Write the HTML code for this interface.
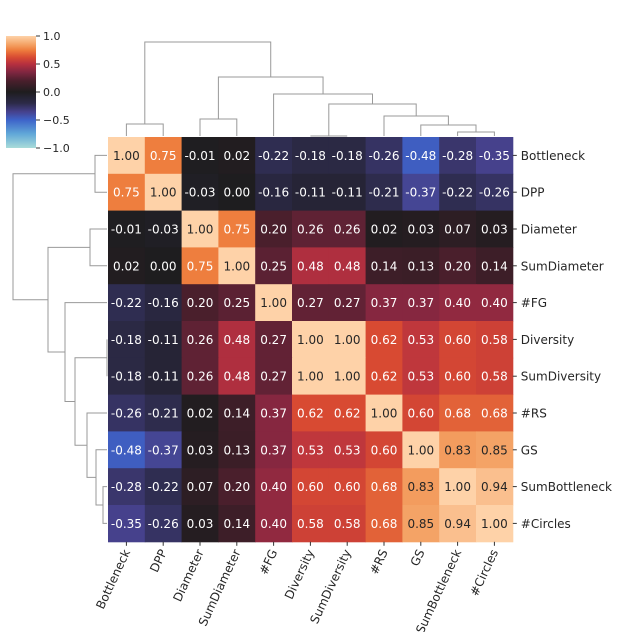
<!DOCTYPE html>
<html><head><meta charset="utf-8"><style>
body{margin:0;background:#fff;}
svg{font-family:"DejaVu Sans","Liberation Sans",sans-serif;}
</style></head><body>
<svg id="chart" width="640" height="632" xmlns="http://www.w3.org/2000/svg">
<defs><linearGradient id="cbgrad" x1="0" y1="1" x2="0" y2="0"></linearGradient></defs>
<g id="cb"></g>
<g id="dendTop" stroke="#999" fill="none" stroke-width="1"></g>
<g id="dendLeft" stroke="#999" fill="none" stroke-width="1"></g>
<g id="cells"></g>
<g id="labels"></g>
</svg>
<script>
const labels=["Bottleneck","DPP","Diameter","SumDiameter","#FG","Diversity","SumDiversity","#RS","GS","SumBottleneck","#Circles"];
const matrix=[
[1.00,0.75,-0.01,0.02,-0.22,-0.18,-0.18,-0.26,-0.48,-0.28,-0.35],
[0.75,1.00,-0.03,0.00,-0.16,-0.11,-0.11,-0.21,-0.37,-0.22,-0.26],
[-0.01,-0.03,1.00,0.75,0.20,0.26,0.26,0.02,0.03,0.07,0.03],
[0.02,0.00,0.75,1.00,0.25,0.48,0.48,0.14,0.13,0.20,0.14],
[-0.22,-0.16,0.20,0.25,1.00,0.27,0.27,0.37,0.37,0.40,0.40],
[-0.18,-0.11,0.26,0.48,0.27,1.00,1.00,0.62,0.53,0.60,0.58],
[-0.18,-0.11,0.26,0.48,0.27,1.00,1.00,0.62,0.53,0.60,0.58],
[-0.26,-0.21,0.02,0.14,0.37,0.62,0.62,1.00,0.60,0.68,0.68],
[-0.48,-0.37,0.03,0.13,0.37,0.53,0.53,0.60,1.00,0.83,0.85],
[-0.28,-0.22,0.07,0.20,0.40,0.60,0.60,0.68,0.83,1.00,0.94],
[-0.35,-0.26,0.03,0.14,0.40,0.58,0.58,0.68,0.85,0.94,1.00]];
const linkage=[[5,6,0.0],[9,10,4],[8,12,11],[7,13,20],[14,11,32],[0,1,12],[2,3,17],[4,15,42],[17,18,59],[16,19,94]];
const cbTicks=[1.0,0.5,0.0,-0.5,-1.0];

const NS="http://www.w3.org/2000/svg";
const X0=108,Y0=137,CS=36.8,N=labels.length;
const stops=[[-1,"#a8dcd9"],[-0.75,"#61a8d8"],[-0.5,"#3e63c9"],[-0.35,"#46418c"],[-0.2,"#2c2a48"],[0,"#1e1d1f"],[0.2,"#4a1f2c"],[0.35,"#7e2640"],[0.5,"#b7303f"],[0.62,"#d84a32"],[0.75,"#ee7e3e"],[0.85,"#f4a366"],[1,"#fed2a8"]];
function hex(h){return [1,3,5].map(i=>parseInt(h.substr(i,2),16));}
function cmap(v){for(let i=0;i<stops.length-1;i++){const[a,ca]=stops[i],[b,cb]=stops[i+1];if(v<=b||i==stops.length-2){const t=Math.max(0,Math.min(1,(v-a)/(b-a)));const A=hex(ca),B=hex(cb);return `rgb(${A.map((x,k)=>Math.round(x+(B[k]-x)*t)).join(',')})`;}}}
function el(tag,attrs,parent){const e=document.createElementNS(NS,tag);for(const k in attrs)e.setAttribute(k,attrs[k]);parent.appendChild(e);return e;}
const xs=i=>X0+CS*(i+0.5), ys=i=>Y0+CS*(i+0.5);
const cellsG=document.getElementById('cells');
for(let r=0;r<N;r++)for(let c=0;c<N;c++){const v=matrix[r][c];
 const rc=el('rect',{x:X0+CS*c,y:Y0+CS*r,width:CS+0.5,height:CS+0.5,fill:cmap(v)},cellsG);
 
 
 const t=el('text',{x:xs(c),y:ys(r)+4.5,'text-anchor':'middle','font-size':12,fill:v>0.8?'#262626':'#fff'},cellsG);
 t.textContent=v.toFixed(2);
 
 }
const labG=document.getElementById('labels');
labels.forEach((l,i)=>{
 el('line',{x1:X0+CS*N,x2:X0+CS*N+4,y1:ys(i),y2:ys(i),stroke:'#333'},labG);
 const t=el('text',{x:X0+CS*N+8,y:ys(i)+4.5,'font-size':12,fill:'#262626'},labG);t.textContent=l;
 
 
 el('line',{x1:xs(i),x2:xs(i),y1:Y0+CS*N,y2:Y0+CS*N+4,stroke:'#333'},labG);
 const b=el('text',{x:xs(i)+4,y:Y0+CS*N+10,'font-size':12,fill:'#262626','text-anchor':'end',transform:`rotate(-65 ${xs(i)+4} ${Y0+CS*N+10})`},labG);b.textContent=l;
 
 
});
const pos={},hgt={};for(let i=0;i<N;i++){pos[i]=i;hgt[i]=0;}
const dendTopG=document.getElementById('dendTop'),dendLeftG=document.getElementById('dendLeft');
const HS=1.0;
linkage.forEach((lk,k)=>{const [a,b,h]=lk,id=N+k;
 const pa=xs(pos[a]),pb=xs(pos[b]);
 const ya=Y0-1-hgt[a]*HS,yb=Y0-1-hgt[b]*HS,yh=Y0-1-h*HS;
 const p=el('path',{d:`M${pa},${ya}V${yh}H${pb}V${yb}`},dendTopG);
 
 
 const qa=ys(pos[a]),qb=ys(pos[b]);
 const xa=X0-1-hgt[a]*HS,xb=X0-1-hgt[b]*HS,xh=X0-1-h*HS;
 const q=el('path',{d:`M${xa},${qa}H${xh}V${qb}H${xb}`},dendLeftG);
 
 
 pos[id]=(pos[a]+pos[b])/2;hgt[id]=h;});
const grad=document.getElementById('cbgrad');
for(let i=0;i<=40;i++){const v=-1+i/20;el('stop',{offset:i/40,'stop-color':cmap(v)},grad);}
const cbG=document.getElementById('cb');
const CY0=36,CY1=148;const cy=v=>CY0+(1-v)/2*(CY1-CY0);
const cr=el('rect',{x:6,y:CY0,width:30,height:CY1-CY0,fill:'url(#cbgrad)'},cbG);


cbTicks.forEach(v=>{el('line',{x1:36,x2:40,y1:cy(v),y2:cy(v),stroke:'#333'},cbG);
 const t=el('text',{x:43,y:cy(v)+4,'font-size':11,fill:'#262626'},cbG);t.textContent=v<0?'−'+Math.abs(v).toFixed(1):v.toFixed(1);
 
 });
</script>
</body></html>
